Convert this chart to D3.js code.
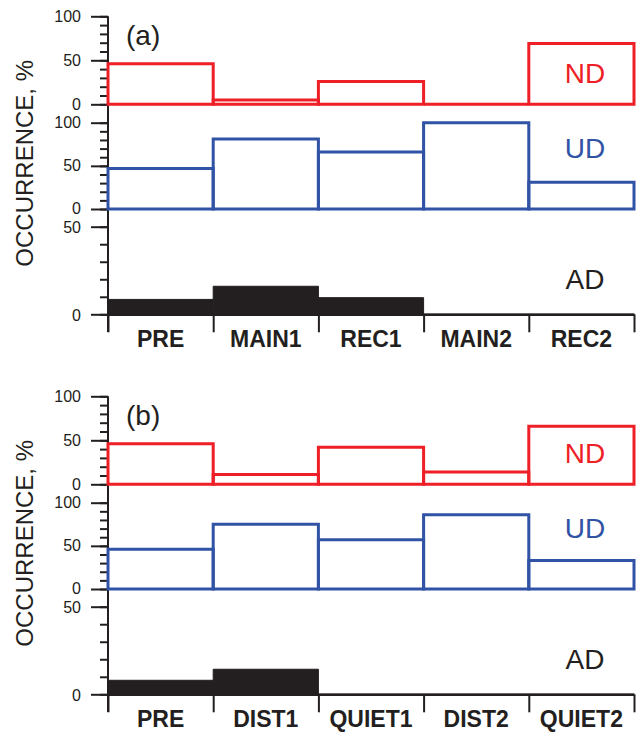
<!DOCTYPE html>
<html>
<head>
    <meta charset="utf-8">
    <title>Occurrence</title>
    <script src="https://cdn.jsdelivr.net/npm/d3@7"></script>
    <style type="text/css">
        body {
            margin: 0;
            background: #fff;
        }

        svg text {
            font-family: "Liberation Sans", Arial, sans-serif;
        }
    </style>
</head>
<body>
<div id="chart"></div>
<script type="text/javascript">
    // categories of the two panels
    var categoriesA = ["PRE", "MAIN1", "REC1", "MAIN2", "REC2"];
    var categoriesB = ["PRE", "DIST1", "QUIET1", "DIST2", "QUIET2"];

    // occurrence, %  (panel a)
    var ndA = [46, 5, 26, 0, 69];
    var udA = [47, 81, 66, 100, 31];
    var adA = [8.5, 16, 9.5, 0, 0];

    // occurrence, %  (panel b)
    var ndB = [46, 11, 42, 14, 66];
    var udB = [46, 75, 57, 86, 33];
    var adB = [8, 14.3, 0, 0, 0];

    var majorTicks100 = [0, 50, 100];
    var majorTicks50 = [0, 50];

    var ink = "#231f20";
    var left = 108, right = 634;

    var svg = d3.select("#chart")
        .append("svg")
        .attr("width", 643)
        .attr("height", 732);

    var panels = [
        {top: 0, label: "(a)", cats: categoriesA, nd: ndA, ud: udA, ad: adA},
        {top: 380, label: "(b)", cats: categoriesB, nd: ndB, ud: udB, ad: adB}
    ];

    // the three stacked sub-plots of each panel
    var rows = [
        {key: "nd", name: "ND", color: "#ee1f26", max: 100, majors: majorTicks100, y0: 104.3, y1: 16.3, fill: "none", width: 3, labelY: 83, dy: "0.32em"},
        {key: "ud", name: "UD", color: "#3053a5", max: 100, majors: majorTicks100, y0: 209, y1: 122.7, fill: "none", width: 3, labelY: 158, dy: "0.28em"},
        {key: "ad", name: "AD", color: ink, max: 50, majors: majorTicks50, y0: 314.3, y1: 226.7, fill: ink, width: 1, labelY: 289, dy: "0.38em"}
    ];

    panels.forEach(function (p) {
        var g = svg.append("g").attr("transform", "translate(0," + p.top + ")");

        var x = d3.scaleBand().domain(p.cats).range([left, right]);
        var edges = d3.scaleLinear().domain([0, p.cats.length]).range([left, right]);

        // continuous vertical axis line
        g.append("line")
            .attr("x1", left).attr("x2", left)
            .attr("y1", 16.3).attr("y2", 332)
            .attr("stroke", ink).attr("stroke-width", 2);

        // bottom axis at AD zero, ticks on the category edges
        var bottom = g.append("g")
            .attr("transform", "translate(0," + rows[2].y0 + ")")
            .call(d3.axisBottom(edges).tickValues(d3.range(0, p.cats.length + 1)).tickSize(18).tickSizeOuter(0).tickFormat(""));
        bottom.attr("color", ink);
        bottom.select(".domain").attr("stroke-width", 2.5);
        bottom.selectAll(".tick line").attr("stroke-width", 2);

        rows.forEach(function (r) {
            var y = d3.scaleLinear().domain([0, r.max]).range([r.y0, r.y1]);

            var minor = g.append("g")
                .attr("transform", "translate(" + left + ",0)")
                .call(d3.axisLeft(y).tickValues(d3.range(0, r.max + 1, 10)).tickSize(8).tickFormat(""));
            minor.select(".domain").remove();
            minor.attr("color", ink).selectAll(".tick line").attr("stroke-width", 2);

            var major = g.append("g")
                .attr("transform", "translate(" + left + ",0)")
                .call(d3.axisLeft(y).tickValues(r.majors).tickSize(17).tickPadding(10));
            major.select(".domain").remove();
            major.attr("color", ink)
                .attr("font-size", 16)
                .attr("font-family", "Liberation Sans, Arial, sans-serif");
            major.selectAll(".tick line").attr("stroke-width", 2);
            major.selectAll(".tick text").attr("dy", r.dy);

            // bars as closed outlines so zero values still show on the baseline
            g.selectAll(null)
                .data(p[r.key])
                .enter()
                .append("path")
                .attr("d", function (d, i) {
                    var x0 = x(p.cats[i]), x1 = x0 + x.bandwidth();
                    return "M" + x0 + "," + y(0) + "V" + y(d) + "H" + x1 + "V" + y(0) + "Z";
                })
                .attr("fill", r.fill)
                .attr("stroke", r.color)
                .attr("stroke-width", r.width)
                .attr("stroke-linejoin", "miter");

            g.append("text")
                .attr("x", 585)
                .attr("y", r.labelY)
                .attr("text-anchor", "middle")
                .attr("font-size", 28)
                .attr("fill", r.color)
                .text(r.name);
        });

        // category names
        g.selectAll(null)
            .data(p.cats)
            .enter()
            .append("text")
            .attr("x", function (d) {
                return x(d) + x.bandwidth() / 2;
            })
            .attr("y", 347)
            .attr("text-anchor", "middle")
            .attr("font-size", 23)
            .attr("font-weight", "bold")
            .attr("fill", ink)
            .text(function (d) {
                return d;
            });

        // panel letter
        g.append("text")
            .attr("x", 126)
            .attr("y", 45)
            .attr("font-size", 28)
            .attr("fill", ink)
            .text(p.label);

        // y title
        g.append("text")
            .attr("transform", "translate(33,163.3) rotate(-90)")
            .attr("text-anchor", "middle")
            .attr("font-size", 24)
            .attr("fill", ink)
            .text("OCCURRENCE, %");
    });
</script>
</body>
</html>
